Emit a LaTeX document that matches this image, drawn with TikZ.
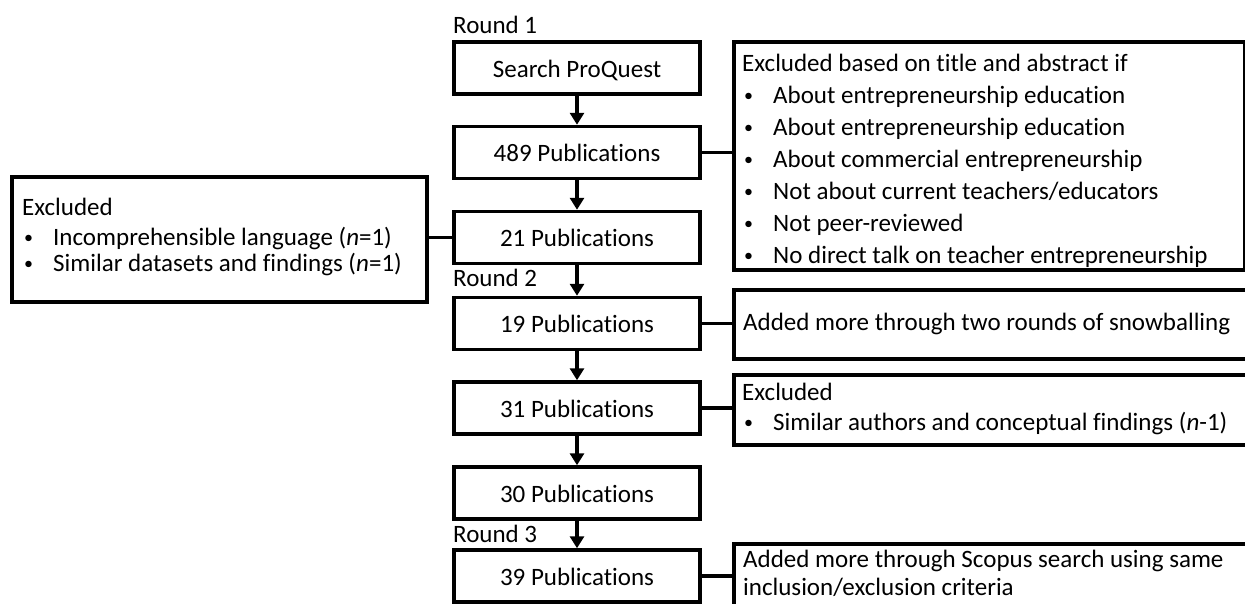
\documentclass[tikz,border=0pt]{standalone}
\usepackage{fontspec}
\setmainfont{Carlito}[Ligatures=NoCommon]
\usetikzlibrary{arrows.meta}
\newcommand{\bl}{\makebox[31pt][l]{\hspace{2pt}\raisebox{1.5pt}{\scalebox{0.72}{•}}}}
\begin{document}
\begin{tikzpicture}[x=1pt,y=-1pt,
  pubbox/.style={draw, line width=3.5pt, minimum width=246pt, minimum height=52pt,
    inner sep=0pt, text height=20pt, text depth=2pt, font=\fontsize{25}{30}\selectfont},
  sidebox/.style={draw, line width=3.5pt, inner sep=0pt, anchor=north west},
  txtblock/.style={inner sep=0pt, anchor=base west, font=\fontsize{25}{32}\selectfont},
  roundlbl/.style={inner sep=0pt, anchor=base west, font=\fontsize{25}{30}\selectfont},
  flow/.style={line width=3.5pt, -{Triangle[width=14pt,length=12pt]}},
  link/.style={line width=3.5pt}]
\useasboundingbox (0,0) rectangle (1245,603);
\clip (0,0) rectangle (1245,603);

% main column
\node[pubbox] (s)   at (577,68)    {Search ProQuest};
\node[pubbox] (p489) at (577,152.5) {489 Publications};
\node[pubbox] (p21)  at (577,237.5) {21 Publications};
\node[pubbox] (p19)  at (577,323.5) {19 Publications};
\node[pubbox] (p31)  at (577,408)   {31 Publications};
\node[pubbox] (p30)  at (577,493)   {30 Publications};
\node[pubbox] (p39)  at (577,576)   {39 Publications};

% round labels
\node[roundlbl] (r1) at (453,33)  {Round 1};
\node[roundlbl] (r2) at (453,286) {Round 2};
\node[roundlbl] (r3) at (453,542) {Round 3};

% side boxes
\node[sidebox, minimum width=511pt, minimum height=228pt] (exA) at (732,40) {};
\node[sidebox, minimum width=415pt, minimum height=125pt] (exL) at (10,175) {};
\node[sidebox, minimum width=530pt, minimum height=69pt]  (addA) at (732,288) {};
\node[sidebox, minimum width=530pt, minimum height=70pt]  (exB) at (732,373) {};
\node[sidebox, minimum width=530pt, minimum height=80pt]  (addB) at (732,542) {};

% side texts
\node[txtblock] (exAt) at (742,71) {\parbox[t]{495pt}{\fontsize{25}{32}\selectfont
  Excluded based on title and abstract if\\
  \bl About entrepreneurship education\\
  \bl About entrepreneurship education\\
  \bl About commercial entrepreneurship\\
  \bl Not about current teachers/educators\\
  \bl Not peer-reviewed\\
  \bl No direct talk on teacher entrepreneurship}};
\node[txtblock] (exLt) at (22,215) {\parbox[t]{400pt}{\fontsize{25}{26}\selectfont
  Excluded\\[4pt]
  \bl Incomprehensible language (\textit{n}=1)\\
  \bl Similar datasets and findings (\textit{n}=1)}};
\node[txtblock] (addAt) at (743,330) {Added more through two rounds of snowballing};
\node[txtblock] (exBt) at (742,400) {\parbox[t]{495pt}{\fontsize{25}{30}\selectfont
  Excluded\\
  \bl Similar authors and conceptual findings (\textit{n}-1)}};
\node[txtblock] (addBt) at (743,567) {\parbox[t]{495pt}{\fontsize{25}{28}\selectfont
  Added more through Scopus search using same\\
  inclusion/exclusion criteria}};

% flow arrows
\draw[flow] (s.south) -- (p489.north);
\draw[flow] (p489.south) -- (p21.north);
\draw[flow] (p21.south) -- (p19.north);
\draw[flow] (p19.south) -- (p31.north);
\draw[flow] (p31.south) -- (p30.north);
\draw[flow] (p30.south) -- (p39.north);

% side links
\draw[link] (p489.east) -- (p489.east -| exA.west);
\draw[link] (p21.west) -- (p21.west -| exL.east);
\draw[link] (p19.east) -- (p19.east -| addA.west);
\draw[link] (p31.east) -- (p31.east -| exB.west);
\draw[link] (p39.east) -- (p39.east -| addB.west);
\end{tikzpicture}
\end{document}
